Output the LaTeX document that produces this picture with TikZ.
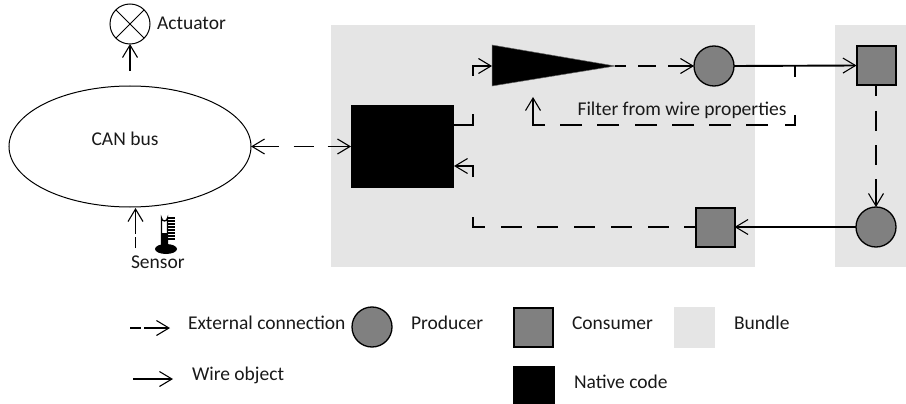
\documentclass[tikz,border=0pt]{standalone}
\usepackage{fontspec}
\setmainfont{Carlito}
\usetikzlibrary{arrows.meta,calc,shapes.geometric}
\definecolor{bundlegray}{HTML}{E5E5E5}
\definecolor{midgray}{HTML}{808080}
\tikzset{
  x=1pt,y=-1pt,
  every node/.style={inner sep=0pt,outer sep=0pt},
  lbl/.style={font=\fontsize{19.5}{22}\selectfont,text=black!90},
  bundlebox/.style={fill=bundlegray,draw=none,minimum width=#1,anchor=north west,minimum height=242pt},
  roundgray/.style={circle,draw=black,line width=1.3pt,fill=midgray,minimum size=40pt},
  squaregray/.style={rectangle,draw=black,line width=2pt,fill=midgray,minimum size=39pt},
  barb/.tip={Straight Barb[length=12.5pt,width=15pt,line width=1.1pt]},
  conn/.style={line width=1.9pt,-barb},
  extshort/.style={line width=1.6pt,-barb,dash pattern=on 11pt off 3pt on 40pt},
}
\begin{document}
\begin{tikzpicture}
\useasboundingbox (0,0) rectangle (906,404);
% bundles
\node[bundlebox=424pt] (b1) at (331,25) {};
\node[bundlebox=71pt] (b2) at (835,25) {};
% bus, actuator, sensor
\node[ellipse,draw=black,line width=1pt,minimum width=242pt,minimum height=121pt] (bus) at (130,146.5) {};
\node[lbl] (bustxt) at (125,139) {CAN bus};
\node[circle,draw=black,line width=1pt,minimum size=40pt] (act) at (130,24) {};
\draw[line width=1pt] (act.north west)--(act.south east) (act.north east)--(act.south west);
\node[lbl,anchor=west] (acttxt) at (157,23) {Actuator};
\coordinate (actfrom) at (130,71);
\draw[conn] (actfrom) -- (act.south);
\coordinate (sensfrom) at (135.5,248);
\coordinate (sensto) at (135.5,208);
\draw[extshort] (sensfrom) -- (sensto);
\node[lbl,anchor=west] (senstxt) at (131,262) {Sensor};
% thermometer
\fill[black] (166,249) ellipse (11 and 5);
\draw[line width=1.3pt,fill=white] (161.5,246) -- (161.5,218) arc (180:0:3) -- (167.5,246);
\fill[black] (161,233) rectangle (168,248);
\foreach \yy in {216.5,219.5,222.5,225.5,228.5,231.5,234.5,237.5} \fill[black] (168,\yy) rectangle (175,\yy+2);
% native code and filter
\node[rectangle,fill=black,minimum width=103pt,minimum height=83pt] (nat) at (402.5,146.5) {};
\path[fill=black,draw=black!60,line width=0.5pt] (492,45) -- (492,86) -- (615,66) -- cycle;
\coordinate (triin) at (492,66);
\coordinate (triout) at (615,66);
\node[roundgray] (prod1) at (714,66) {};
\node[squaregray] (cons1) at (876,65.5) {};
\node[roundgray] (prod2) at (876,227) {};
\node[squaregray] (cons2) at (715,227) {};
\node[lbl] (filt) at (682,110) {Filter from wire properties};
% connectors
\draw[conn,barb-barb,dash pattern=on 26pt off 15pt on 20pt off 14pt on 30pt] (bus.east) -- (nat.west);
\draw[conn,dash pattern=on 30pt off 38pt on 40pt] ($(nat.east)+(0,-21.5)$) -- (473,125) -- (473,66) -- (triin);
\draw[conn,dash pattern=on 11pt off 12pt on 18pt off 12pt on 30pt] (triout) -- (prod1.west);
\draw[conn] (prod1.east) -- (cons1.west);
\coordinate (tap) at (795,66);
\coordinate (filtend) at (533,97);
\draw[conn,dash pattern=on 10.7pt off 38.3pt on 20pt off 17pt on 22pt off 15pt on 22pt off 15pt on 22pt off 15pt on 22pt off 16pt on 22pt off 15pt on 22pt off 15pt on 50pt] (tap) -- (795,125) -- (533,125) -- (filtend);
\draw[conn,dash pattern=on 10.7pt off 15.3pt on 20pt off 14pt on 20pt off 14pt on 30pt] (cons1.south) -- (prod2.north);
\draw[conn] (prod2.west) -- (cons2.east);
\draw[conn,dash pattern=on 12pt off 15pt on 21pt off 16pt on 21pt off 16pt on 21pt off 16pt on 21pt off 15pt on 21pt off 16pt on 21.3pt off 40pt on 40pt] (cons2.west) -- (473,227) -- (473,166) -- ($(nat.east)+(0,19.5)$);
% legend
\coordinate (l1a) at (130,328); \coordinate (l1b) at (170,328);
\draw[extshort] (l1a) -- (l1b);
\node[lbl,anchor=west] (t1) at (188,323) {External connection};
\node[roundgray] (lp) at (372,327) {};
\node[lbl,anchor=west] (t2) at (411,323) {Producer};
\node[squaregray] (lc) at (533,327.5) {};
\node[lbl,anchor=west] (t3) at (572,323) {Consumer};
\node[rectangle,fill=bundlegray,minimum width=41pt,minimum height=41pt] (lb) at (694.5,327.5) {};
\node[lbl,anchor=west] (t4) at (734,323) {Bundle};
\coordinate (l2a) at (133,379); \coordinate (l2b) at (173,379);
\draw[conn] (l2a) -- (l2b);
\node[lbl,anchor=west] (t5) at (192,375) {Wire object};
\node[rectangle,fill=black,minimum width=42pt,minimum height=38pt] (ln) at (534,385) {};
\node[lbl,anchor=west] (t6) at (574,382) {Native code};
\end{tikzpicture}
\end{document}
